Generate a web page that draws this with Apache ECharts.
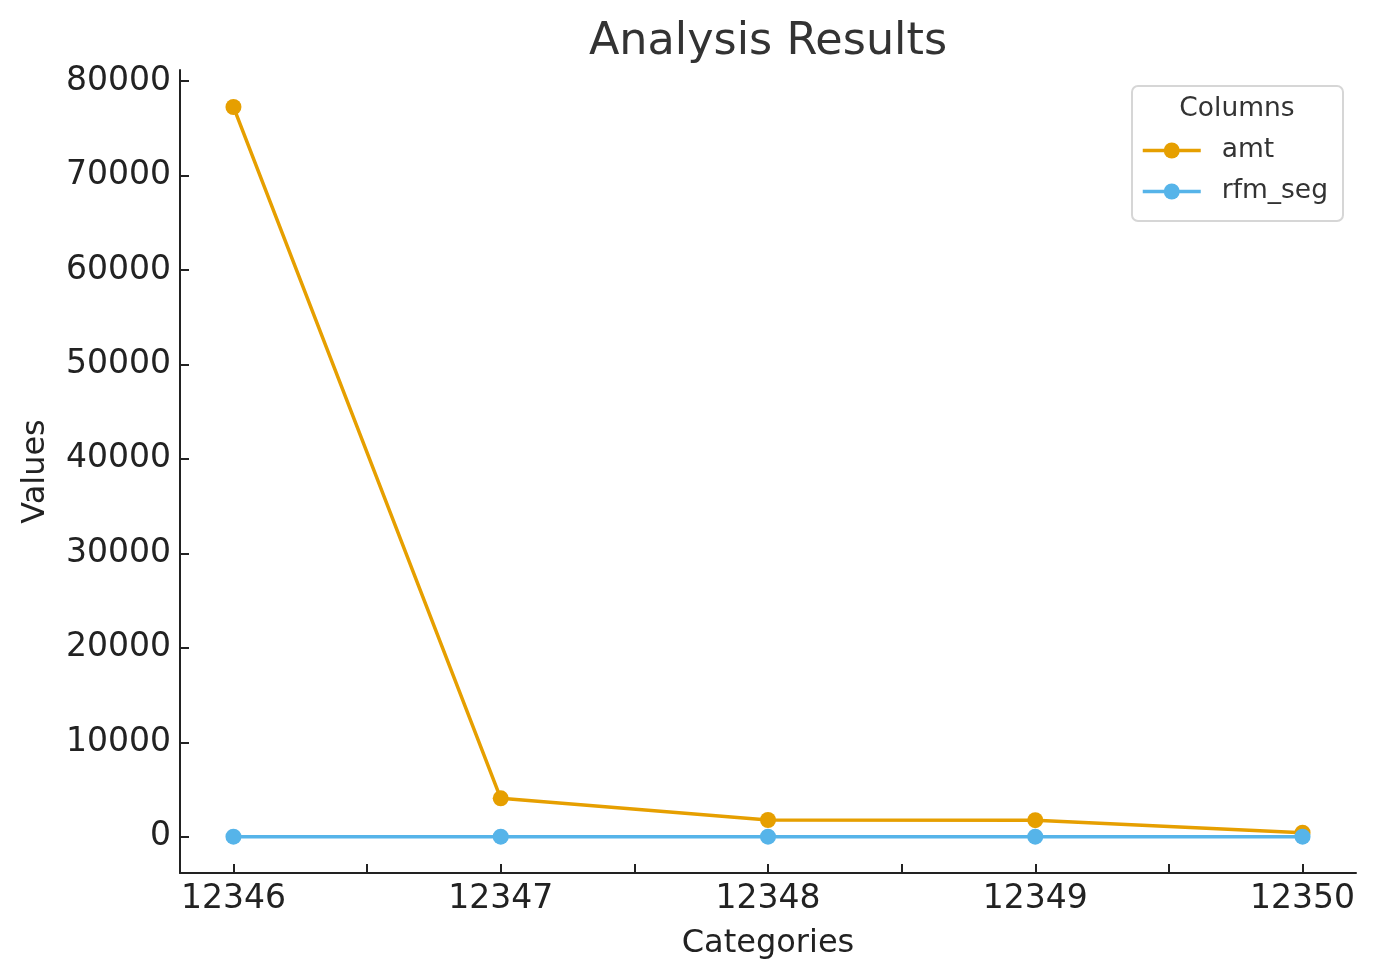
<!DOCTYPE html>
<html>
<head>
<meta charset="utf-8">
<script src="https://cdn.jsdelivr.net/npm/echarts@6/dist/echarts.min.js"></script>
<style>
html,body{margin:0;padding:0;background:#fff;}
#chart{width:1376px;height:980px;}
</style>
</head>
<body>
<div id="chart"></div>
<script>
const categories = [12346, 12347, 12348, 12349, 12350];
const amt = [77250, 4060, 1770, 1750, 420];
const rfm_seg = [3, 2, 2, 2, 1];
const xTicks = [12346, 12346.5, 12347, 12347.5, 12348, 12348.5, 12349, 12349.5, 12350];
const xLabels = [12346, 12347, 12348, 12349, 12350];
const yLabels = [0, 10000, 20000, 30000, 40000, 50000, 60000, 70000, 80000];

const FONT = 'DejaVu Sans';
const chart = echarts.init(document.getElementById('chart'));
const pairs = (ys) => categories.map((c, i) => [c, ys[i]]);
const plain = (v) => String(v);

chart.setOption({
  backgroundColor: '#ffffff',
  animation: false,
  title: {
    text: 'Analysis Results',
    left: 763, textAlign: 'center', top: 15,
    textStyle: {fontFamily: FONT, fontSize: 44.5, fontWeight: 'normal', color: '#333333'}
  },
  grid: {left: 180, right: 20, top: 70, bottom: 107, containLabel: false},
  xAxis: {
    type: 'value', min: 12345.8, max: 12350.2,
    name: 'Categories', nameLocation: 'middle', nameGap: 55,
    nameTextStyle: {fontFamily: FONT, fontSize: 32, color: '#222222'},
    axisLine: {show: true, onZero: false, lineStyle: {color: '#222222', width: 2}},
    axisTick: {show: true, inside: true, length: 9, customValues: xTicks, lineStyle: {color: '#222222', width: 2}},
    axisLabel: {customValues: xLabels, formatter: plain, margin: 10, fontFamily: FONT, fontSize: 33, color: '#222222'},
    splitLine: {show: false}
  },
  yAxis: {
    type: 'value', min: -3841, max: 81164,
    name: 'Values', nameLocation: 'middle', nameGap: 128,
    nameTextStyle: {fontFamily: FONT, fontSize: 32, color: '#222222'},
    axisLine: {show: true, lineStyle: {color: '#222222', width: 2}},
    axisTick: {show: true, inside: true, length: 9, customValues: yLabels, lineStyle: {color: '#222222', width: 2}},
    axisLabel: {customValues: yLabels, formatter: plain, margin: 9, fontFamily: FONT, fontSize: 33, color: '#222222'},
    splitLine: {show: false}
  },
  legend: {
    orient: 'vertical', left: 1136, top: 132,
    itemWidth: 58, itemHeight: 20, itemGap: 14,
    lineStyle: {width: 3.5},
    textStyle: {fontFamily: FONT, fontSize: 26.5, color: '#333333', padding: [0, 0, 0, 16]},
    data: ['amt', 'rfm_seg']
  },
  graphic: [
    {type: 'rect', left: 1131, top: 85, shape: {width: 211, height: 135, r: 6},
     style: {fill: 'rgba(255,255,255,0.8)', stroke: '#d6d6d6', lineWidth: 2}, z: -1},
    {type: 'text', x: 1237, y: 96, style: {text: 'Columns', textAlign: 'center', fontFamily: FONT, fontSize: 26.5, fill: '#333333'}}
  ],
  series: [
    {name: 'amt', type: 'line', data: pairs(amt), color: '#E69F00',
     symbol: 'circle', symbolSize: 16, lineStyle: {width: 3.5}, itemStyle: {color: '#E69F00'}},
    {name: 'rfm_seg', type: 'line', data: pairs(rfm_seg), color: '#56B4E9',
     symbol: 'circle', symbolSize: 16, lineStyle: {width: 3.5}, itemStyle: {color: '#56B4E9'}}
  ]
});
</script>
</body>
</html>
